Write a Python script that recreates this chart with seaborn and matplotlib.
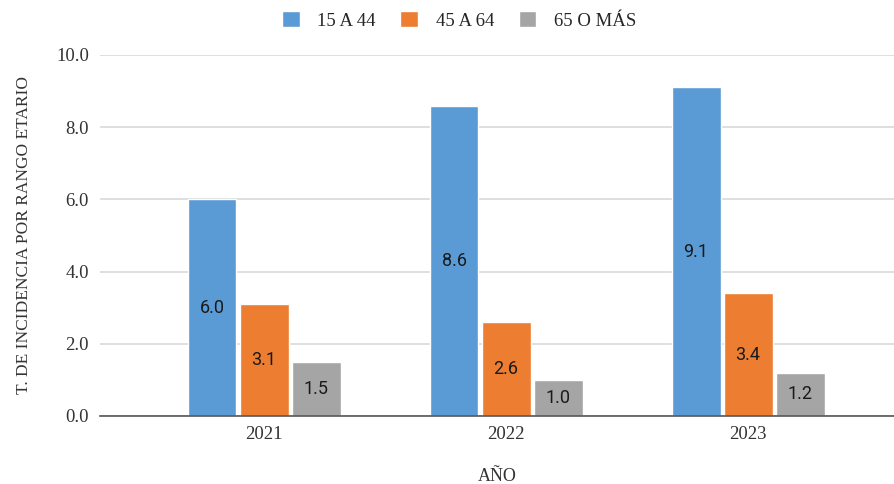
import matplotlib
matplotlib.use("Agg")
import matplotlib.pyplot as plt
import seaborn as sns
import pandas as pd

# Incidence rate by age group and year
years = ["2021", "2022", "2023"]
groups = ["15 A 44", "45 A 64", "65 O MÁS"]
rate_15_44 = [6.0, 8.6, 9.1]
rate_45_64 = [3.1, 2.6, 3.4]
rate_65_plus = [1.5, 1.0, 1.2]
y_ticks = [0.0, 2.0, 4.0, 6.0, 8.0, 10.0]

colors = ["#5b9bd5", "#ed7d31", "#a5a5a5"]

df = pd.DataFrame({
    "year": years * 3,
    "group": [groups[0]] * 3 + [groups[1]] * 3 + [groups[2]] * 3,
    "rate": rate_15_44 + rate_45_64 + rate_65_plus,
})

sns.set_style("white")
serif = ["Liberation Serif", "DejaVu Serif"]

fig = plt.figure(figsize=(8.95, 4.84), dpi=100)
ax = fig.add_axes([0.1117, 0.1405, 0.8883, 0.7459])

sns.barplot(data=df, x="year", y="rate", hue="group", order=years,
            hue_order=groups, palette=colors, width=0.645, gap=0.06,
            saturation=1, ax=ax, legend=True, zorder=3)

# value labels centred in each bar
for container in ax.containers:
    for bar, val in zip(container, container.datavalues):
        ax.text(bar.get_x() + bar.get_width() / 2, val / 2, f"{val:.1f}",
                ha="center", va="center", fontsize=13, color="#1a1a1a",
                family=["Roboto", "DejaVu Sans"], zorder=4)

ax.set_ylim(0, 10)
ax.set_xlim(-0.678, 2.607)
ax.set_yticks(y_ticks)
ax.set_yticklabels([f"{t:.1f}" for t in y_ticks], family=serif, fontsize=13.5,
                   color="#333333")
ax.set_xticklabels(years, family=serif, fontsize=13.5, color="#333333")
ax.tick_params(axis="x", length=0, pad=7)
ax.tick_params(axis="y", length=0, pad=8)

ax.yaxis.grid(True, color="#d9d9d9", linewidth=1.2, zorder=0)
ax.set_axisbelow(True)
for s in ["top", "right", "left"]:
    ax.spines[s].set_visible(False)
ax.spines["bottom"].set_color("#555555")
ax.spines["bottom"].set_linewidth(1.2)
ax.spines["bottom"].set_zorder(5)

ax.set_xlabel("AÑO", family=serif, fontsize=13, color="#333333", labelpad=18)
ax.set_ylabel("T. DE INCIDENCIA POR RANGO ETARIO", family=serif, fontsize=12.5,
              color="#333333", labelpad=17)

handles, labels = ax.get_legend_handles_labels()
ax.legend_.remove()
fig.legend(handles, labels, loc="center", bbox_to_anchor=(0.513, 0.958),
           ncol=3, frameon=False, prop={"family": serif, "size": 13.5},
           handlelength=0.95, handleheight=0.95, columnspacing=1.3,
           handletextpad=0.95)

fig.savefig("out.png", dpi=100)
